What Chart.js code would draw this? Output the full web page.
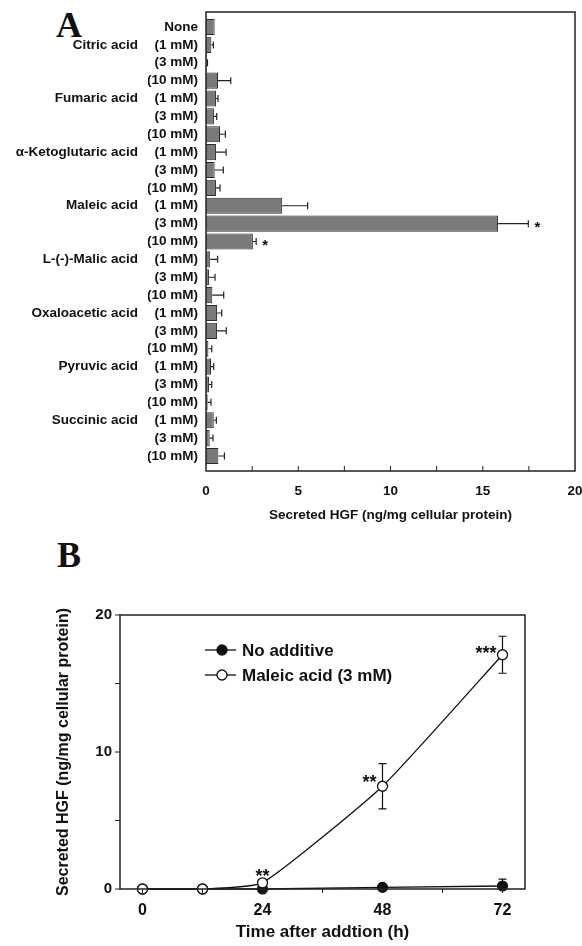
<!DOCTYPE html>
<html lang="en">
<head>
<meta charset="UTF-8" />
<title>Secreted HGF</title>
<script src="https://cdn.jsdelivr.net/npm/chart.js@4.4.0/dist/chart.umd.min.js"></script>
<style>
  body { margin: 0; background: #fff; width: 582px; height: 946px; position: relative; overflow: hidden; }
  canvas { position: absolute; left: 0; }
  #chartA { top: 0; }
  #chartB { top: 530px; }
  .panel { position: absolute; font-family: "Liberation Serif", "Times New Roman", serif; font-weight: bold; font-size: 36px; line-height: 1; color: #111; }
</style>
</head>
<body>
<div class="panel" style="left:56px; top:7px">A</div>
<div class="panel" style="left:57px; top:537px">B</div>
<canvas id="chartA" width="582" height="530"></canvas>
<canvas id="chartB" width="582" height="416"></canvas>

<script>
  // panel A: one row per treatment, top to bottom
  const acidNames = ['', 'Citric acid', '', '', 'Fumaric acid', '', '', 'α-Ketoglutaric acid', '', '',
    'Maleic acid', '', '', 'L-(-)-Malic acid', '', '', 'Oxaloacetic acid', '', '',
    'Pyruvic acid', '', '', 'Succinic acid', '', ''];
  const doseLabels = ['None', '(1 mM)', '(3 mM)', '(10 mM)', '(1 mM)', '(3 mM)', '(10 mM)',
    '(1 mM)', '(3 mM)', '(10 mM)', '(1 mM)', '(3 mM)', '(10 mM)', '(1 mM)', '(3 mM)', '(10 mM)',
    '(1 mM)', '(3 mM)', '(10 mM)', '(1 mM)', '(3 mM)', '(10 mM)', '(1 mM)', '(3 mM)', '(10 mM)'];
  const hgfMean = [0.47, 0.29, 0.04, 0.65, 0.54, 0.43, 0.76, 0.54, 0.47, 0.54, 4.13, 15.83, 2.54,
    0.23, 0.16, 0.34, 0.60, 0.60, 0.13, 0.27, 0.16, 0.09, 0.42, 0.20, 0.67];
  const hgfErr = [0, 0.11, 0.04, 0.69, 0.11, 0.15, 0.29, 0.55, 0.47, 0.22, 1.38, 1.64, 0.18,
    0.40, 0.33, 0.62, 0.25, 0.50, 0.18, 0.15, 0.15, 0.18, 0.14, 0.18, 0.33];
  const hgfSig = ['', '', '', '', '', '', '', '', '', '', '', '*', '*', '', '', '', '', '', '', '', '', '', '', '', ''];

  // panel B: time course
  const hours = [0, 12, 24, 48, 72];
  const noAdditive = [0, 0, 0, 0.12, 0.22];
  const noAdditiveErr = [0, 0, 0, 0.05, 0.5];
  const maleic = [0, 0, 0.45, 7.5, 17.1];
  const maleicErr = [0, 0, 0, 1.65, 1.35];
  const maleicSig = ['', '', '**', '**', '***'];
  const sigOffset = [null, null, [0, -11, 'center'], [-6, -8, 'right'], [-6, -6, 'right']];

  const FONT = '"Liberation Sans", Arial, sans-serif';
  Chart.defaults.font.family = FONT;
  Chart.defaults.font.weight = 'bold';
  Chart.defaults.color = '#111';

  function star(ctx, txt, x, cy, size, align) {
    ctx.font = 'bold ' + size + 'px ' + FONT;
    ctx.textAlign = align;
    ctx.textBaseline = 'alphabetic';
    ctx.fillStyle = '#111';
    ctx.fillText(txt, x, cy + 0.56 * size);
  }

  // keep the plot box where the layout padding puts it
  function noEdgePad(s) {
    s.paddingLeft = 0; s.paddingRight = 0; s.paddingTop = 0; s.paddingBottom = 0;
  }

  const panelA = {
    id: 'panelA',
    afterDatasetsDraw(chart) {
      const {ctx, chartArea: a} = chart;
      const x = chart.scales.x, y = chart.scales.y;
      ctx.save();
      ctx.strokeStyle = '#222';
      ctx.lineWidth = 1.2;
      hgfMean.forEach((m, i) => {
        const py = y.getPixelForValue(i);
        const x1 = x.getPixelForValue(m + hgfErr[i]);
        if (hgfErr[i]) {
          ctx.beginPath();
          ctx.moveTo(x.getPixelForValue(m), py);
          ctx.lineTo(x1, py);
          ctx.moveTo(x1, py - 3.5);
          ctx.lineTo(x1, py + 3.5);
          ctx.stroke();
        }
        if (hgfSig[i]) star(ctx, hgfSig[i], x1 + 9, py, 15, 'center');
      });
      ctx.lineWidth = 1.5;
      ctx.strokeRect(a.left, a.top, a.width, a.height);
      ctx.lineWidth = 1;
      ctx.beginPath();
      for (let v = 2.5; v < 20; v += 2.5) {
        const px = x.getPixelForValue(v);
        ctx.moveTo(px, a.bottom);
        ctx.lineTo(px, a.bottom - 5);
      }
      ctx.stroke();
      ctx.restore();
    }
  };

  new Chart(document.getElementById('chartA'), {
    type: 'bar',
    data: {
      datasets: [{
        data: hgfMean.map((v, i) => ({x: v, y: i})),
        backgroundColor: '#7a7a7a',
        borderColor: '#2a2a2a',
        borderWidth: 1,
        barPercentage: 0.9,
        categoryPercentage: 1
      }]
    },
    options: {
      indexAxis: 'y',
      responsive: false,
      animation: false,
      layout: { padding: { top: 12, right: 7, left: 0, bottom: 0 } },
      plugins: { legend: { display: false }, tooltip: { enabled: false } },
      scales: {
        x: {
          type: 'linear', min: 0, max: 20,
          grid: { display: false, drawTicks: false },
          border: { display: false },
          ticks: { stepSize: 5, padding: 12, font: { size: 13.5 } },
          title: { display: true, text: 'Secreted HGF (ng/mg cellular protein)', font: { size: 13.5 }, padding: { top: 0, bottom: 7 } },
          afterFit(s) { s.height = 59; noEdgePad(s); }
        },
        y: {
          type: 'linear', reverse: true, offset: false, min: -0.84, max: 24.84, weight: 0,
          grid: { display: false, drawTicks: false, offset: false },
          border: { display: false },
          ticks: { stepSize: 1, includeBounds: false, autoSkip: false, padding: 8, font: { size: 13.5 },
            callback: v => doseLabels[v] ?? '' },
          afterFit(s) { s.width = 58; noEdgePad(s); }
        },
        y2: {
          type: 'linear', position: 'left', reverse: true, offset: false, min: -0.84, max: 24.84, weight: 1,
          grid: { display: false, drawTicks: false, offset: false },
          border: { display: false },
          ticks: { stepSize: 1, includeBounds: false, autoSkip: false, padding: 10, font: { size: 13.5 },
            callback: v => acidNames[v] ?? '' },
          afterFit(s) { s.width = 148; noEdgePad(s); }
        }
      }
    },
    plugins: [panelA]
  });

  const panelB = {
    id: 'panelB',
    beforeDatasetsDraw(chart) {
      const {ctx} = chart;
      const x = chart.scales.x, y = chart.scales.y;
      ctx.save();
      ctx.strokeStyle = '#111';
      ctx.lineWidth = 1.2;
      [[noAdditive, noAdditiveErr], [maleic, maleicErr]].forEach(([vals, errs]) => {
        vals.forEach((v, i) => {
          if (!errs[i]) return;
          const px = x.getPixelForValue(hours[i]);
          const top = y.getPixelForValue(v + errs[i]), bot = y.getPixelForValue(Math.max(0, v - errs[i]));
          ctx.beginPath();
          ctx.moveTo(px, top); ctx.lineTo(px, bot);
          ctx.moveTo(px - 4, top); ctx.lineTo(px + 4, top);
          ctx.moveTo(px - 4, bot); ctx.lineTo(px + 4, bot);
          ctx.stroke();
        });
      });
      ctx.restore();
    },
    afterDatasetsDraw(chart) {
      const {ctx, chartArea: a} = chart;
      const x = chart.scales.x, y = chart.scales.y;
      ctx.save();
      ctx.strokeStyle = '#222';
      ctx.lineWidth = 1.5;
      ctx.strokeRect(a.left, a.top, a.width, a.height);
      ctx.lineWidth = 1;
      ctx.beginPath();
      for (let v = 0; v <= 20; v += 5) {
        const py = y.getPixelForValue(v);
        ctx.moveTo(a.left, py); ctx.lineTo(a.left - 5, py);
      }
      for (let h = 0; h <= 72; h += 12) {
        const px = x.getPixelForValue(h);
        ctx.moveTo(px, a.bottom); ctx.lineTo(px, a.bottom + 4);
      }
      ctx.stroke();

      maleicSig.forEach((s, i) => {
        if (!s) return;
        const [dx, dy, align] = sigOffset[i];
        star(ctx, s, x.getPixelForValue(hours[i]) + dx, y.getPixelForValue(maleic[i]) + dy, 18, align);
      });

      // legend: line + marker + text
      chart.data.datasets.forEach((ds, k) => {
        const ly = a.top + 35 + k * 25, lx = a.left + 85;
        ctx.strokeStyle = '#111';
        ctx.lineWidth = 1.3;
        ctx.beginPath(); ctx.moveTo(lx, ly); ctx.lineTo(lx + 31, ly); ctx.stroke();
        ctx.beginPath(); ctx.arc(lx + 17, ly, 5, 0, Math.PI * 2);
        ctx.fillStyle = ds.pointBackgroundColor; ctx.fill(); ctx.stroke();
        ctx.fillStyle = '#111';
        ctx.font = 'bold 17px ' + FONT;
        ctx.textAlign = 'left'; ctx.textBaseline = 'middle';
        ctx.fillText(ds.label, lx + 37, ly + 1);
      });
      ctx.restore();
    }
  };

  new Chart(document.getElementById('chartB'), {
    type: 'line',
    data: {
      datasets: [{
        label: 'No additive',
        data: hours.map((h, i) => ({x: h, y: noAdditive[i]})),
        borderColor: '#111', borderWidth: 1.3,
        pointBackgroundColor: '#111', pointBorderColor: '#111', pointBorderWidth: 1.2, pointRadius: 5,
        clip: false, order: 1
      }, {
        label: 'Maleic acid (3 mM)',
        data: hours.map((h, i) => ({x: h, y: maleic[i]})),
        borderColor: '#111', borderWidth: 1.3,
        pointBackgroundColor: '#fff', pointBorderColor: '#111', pointBorderWidth: 1.3, pointRadius: 5,
        tension: 0.15,
        clip: false, order: 0
      }]
    },
    options: {
      responsive: false,
      animation: false,
      layout: { padding: { top: 85, right: 57, left: 0, bottom: 0 } },
      plugins: { legend: { display: false }, tooltip: { enabled: false } },
      scales: {
        x: {
          type: 'linear', min: -4.5, max: 76.5,
          grid: { display: false, drawTicks: false },
          border: { display: false },
          ticks: { stepSize: 24, includeBounds: false, padding: 12, font: { size: 16 } },
          title: { display: true, text: 'Time after addtion (h)', font: { size: 17 }, padding: { top: 0, bottom: 3 } },
          afterFit(s) { s.height = 57; noEdgePad(s); }
        },
        y: {
          type: 'linear', min: 0, max: 20,
          grid: { display: false, drawTicks: false },
          border: { display: false },
          ticks: { stepSize: 10, includeBounds: false, padding: 8, font: { size: 15 } },
          title: { display: true, text: 'Secreted HGF (ng/mg cellular protein)', font: { size: 16 }, padding: { top: 54, bottom: 0 } },
          afterFit(s) { s.width = 120; noEdgePad(s); }
        }
      }
    },
    plugins: [panelB]
  });
</script>
</body>
</html>
